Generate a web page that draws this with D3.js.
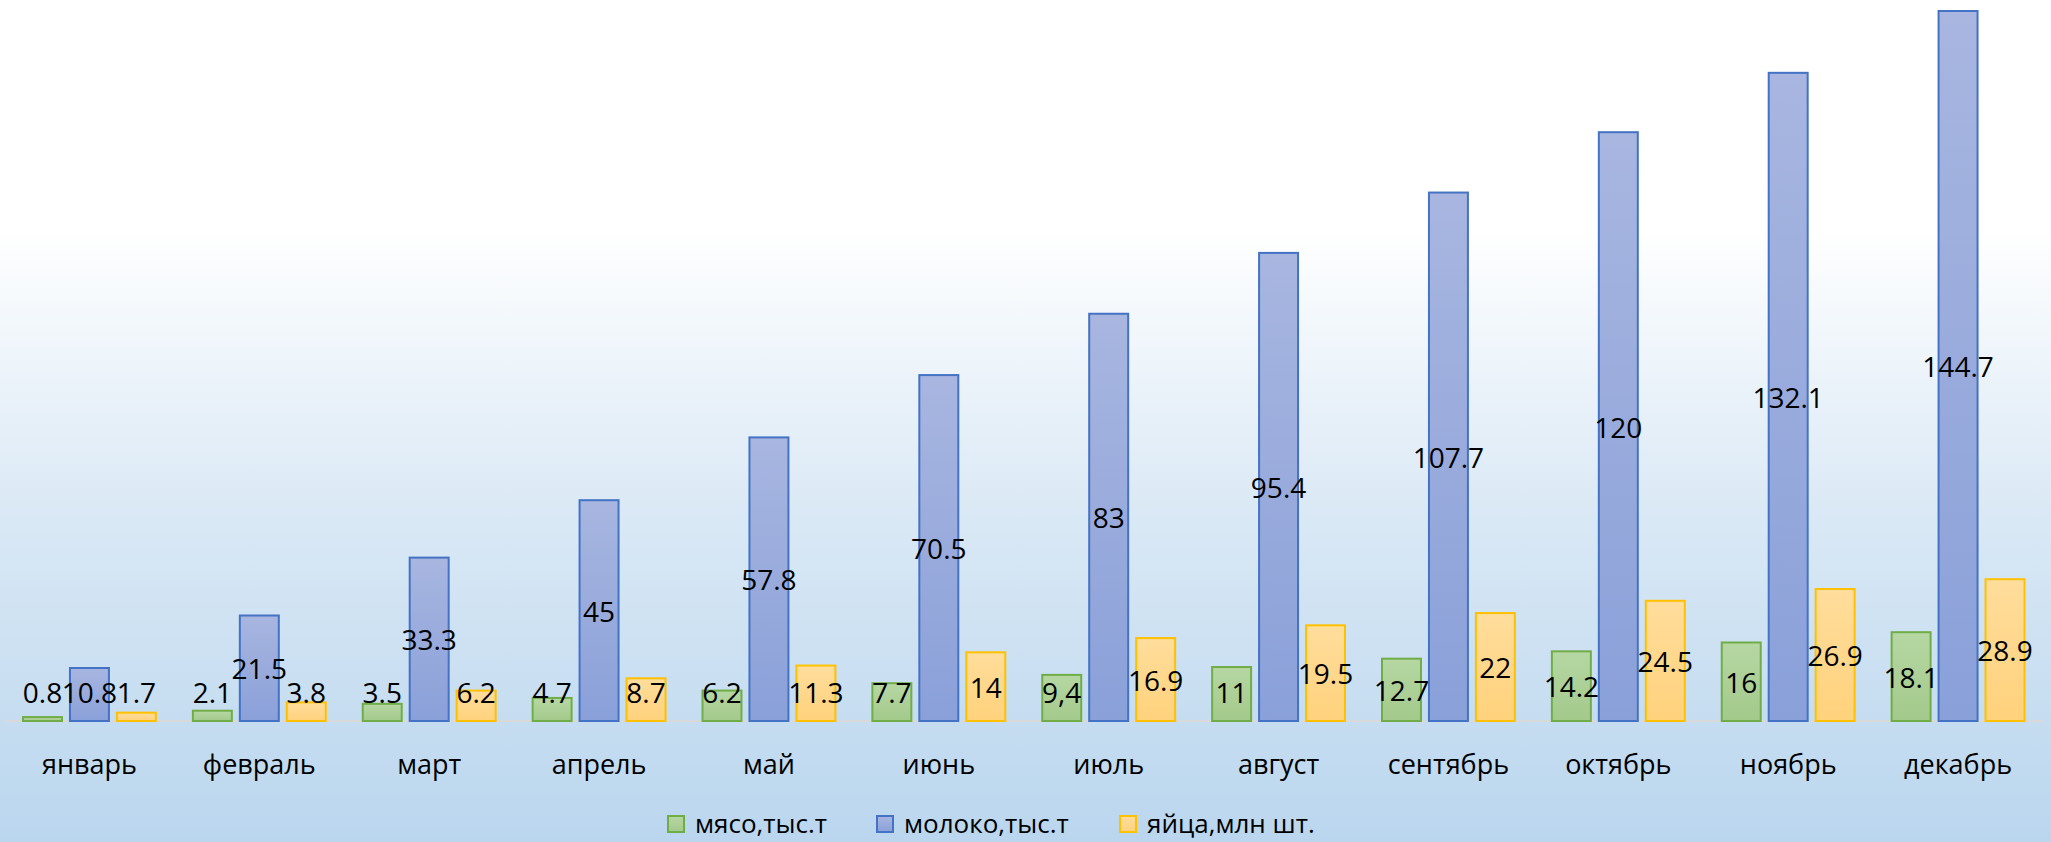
<!DOCTYPE html>
<html>
<head>
<meta charset="utf-8">
<script src="https://cdn.jsdelivr.net/npm/d3@7/dist/d3.min.js"></script>
<style>
  body { margin: 0; padding: 0; overflow: hidden; }
  svg { display: block; }
  text { font-family: "Open Sans", sans-serif; fill: #000; }
</style>
</head>
<body>
<script>
// Данные графика
const meses = ["январь", "февраль", "март", "апрель", "май", "июнь", "июль", "август", "сентябрь", "октябрь", "ноябрь", "декабрь"];
const series = ["мясо,тыс.т", "молоко,тыс.т", "яйца,млн шт."];
const myaso = [0.8, 2.1, 3.5, 4.7, 6.2, 7.7, 9.4, 11, 12.7, 14.2, 16, 18.1];
const moloko = [10.8, 21.5, 33.3, 45, 57.8, 70.5, 83, 95.4, 107.7, 120, 132.1, 144.7];
const yaitsa = [1.7, 3.8, 6.2, 8.7, 11.3, 14, 16.9, 19.5, 22, 24.5, 26.9, 28.9];
// Подписи как в оригинале (в июле у мяса стоит запятая)
const myasoLabels = ["0.8", "2.1", "3.5", "4.7", "6.2", "7.7", "9,4", "11", "12.7", "14.2", "16", "18.1"];

const width = 2051;
const height = 842;
const baseY = 721;

// Цвета серий: заливка сверху/снизу и контур
const colores = [
    {top: "#b6d7a3", bottom: "#a3c98b", stroke: "#70ad47"},
    {top: "#a8b6e0", bottom: "#8aa0d9", stroke: "#4472c4"},
    {top: "#ffdd9c", bottom: "#ffd27c", stroke: "#ffc000"}
];

const svg = d3.select("body")
    .append("svg")
    .attr("width", width)
    .attr("height", height);

const defs = svg.append("defs");

// Фон: белый сверху, голубой снизу
const bg = defs.append("linearGradient")
    .attr("id", "fondo")
    .attr("x1", 0).attr("y1", 0).attr("x2", 0).attr("y2", 1);
bg.append("stop").attr("offset", "0").attr("stop-color", "#ffffff");
bg.append("stop").attr("offset", "0.27").attr("stop-color", "#ffffff");
bg.append("stop").attr("offset", "0.62").attr("stop-color", "#d9e8f5");
bg.append("stop").attr("offset", "1").attr("stop-color", "#bad6ee");

colores.forEach(function(c, i) {
    const g = defs.append("linearGradient")
        .attr("id", "grad" + i)
        .attr("x1", 0).attr("y1", 0).attr("x2", 0).attr("y2", 1);
    g.append("stop").attr("offset", "0").attr("stop-color", c.top);
    g.append("stop").attr("offset", "1").attr("stop-color", c.bottom);
});

svg.append("rect")
    .attr("width", width)
    .attr("height", height)
    .attr("fill", "url(#fondo)");

// Escalas
const x0 = d3.scaleBand().domain(meses).range([4.5, 2043]).padding(0);
const x1 = d3.scaleBand().domain(series)
    .range([18.5, x0.bandwidth() - 18.5])
    .paddingInner(0.17).paddingOuter(0);
const y = d3.scaleLinear().domain([0, d3.max(moloko)]).range([baseY, 11]);

const datos = [myaso, moloko, yaitsa];
const etiquetas = [myasoLabels, moloko.map(String), yaitsa.map(String)];

// Eje X (línea base)
svg.append("line")
    .attr("x1", x0.range()[0]).attr("x2", x0.range()[1])
    .attr("y1", baseY).attr("y2", baseY)
    .attr("stroke", "#d9d9d9")
    .attr("stroke-width", 2);

// Barras
series.forEach(function(s, si) {
    const g = svg.append("g");
    g.selectAll("rect")
        .data(datos[si])
        .enter()
        .append("rect")
        .attr("x", function(d, i) { return x0(meses[i]) + x1(s); })
        .attr("y", function(d) { return y(d); })
        .attr("width", x1.bandwidth())
        .attr("height", function(d) { return baseY - y(d); })
        .attr("fill", "url(#grad" + si + ")")
        .attr("stroke", colores[si].stroke)
        .attr("stroke-width", 2);
});

// Подписи данных (по центру столбца, но не ниже оси)
series.forEach(function(s, si) {
    svg.append("g").selectAll("text")
        .data(datos[si])
        .enter()
        .append("text")
        .attr("x", function(d, i) { return x0(meses[i]) + x1(s) + x1.bandwidth() / 2; })
        .attr("y", function(d) { return Math.min((y(d) + baseY) / 2, baseY - 29); })
        .attr("text-anchor", "middle")
        .attr("dominant-baseline", "central")
        .style("font-size", "28px")
        .text(function(d, i) { return etiquetas[si][i]; });
});

// Meses
svg.append("g").selectAll("text")
    .data(meses)
    .enter()
    .append("text")
    .attr("x", function(d) { return x0(d) + x0.bandwidth() / 2; })
    .attr("y", 763)
    .attr("text-anchor", "middle")
    .attr("dominant-baseline", "central")
    .style("font-size", "27px")
    .text(function(d) { return d; });

// Leyenda
const legX = [668, 877, 1120];
const leyenda = svg.append("g");
series.forEach(function(s, si) {
    leyenda.append("rect")
        .attr("x", legX[si]).attr("y", 816)
        .attr("width", 16).attr("height", 16)
        .attr("fill", "url(#grad" + si + ")")
        .attr("stroke", colores[si].stroke)
        .attr("stroke-width", 2);
    leyenda.append("text")
        .attr("x", legX[si] + 27)
        .attr("y", 823)
        .attr("dominant-baseline", "central")
        .style("font-size", "26px")
        .text(s);
});
</script>
</body>
</html>
